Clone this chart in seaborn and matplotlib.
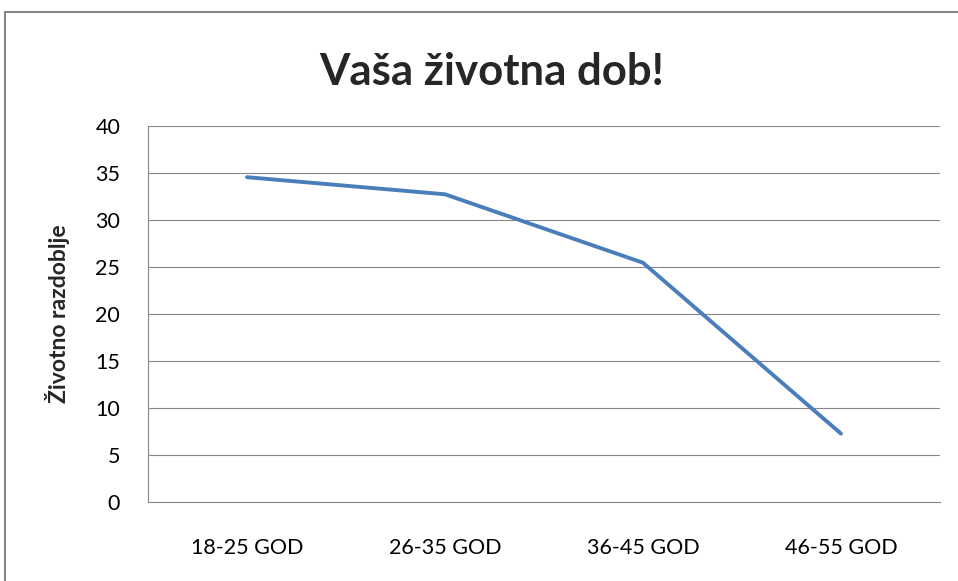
import seaborn as sns
import matplotlib.pyplot as plt
import pandas as pd
from matplotlib.lines import Line2D

# vrijednosti ocitane s grafa
kategorije = ['18-25 GOD', '26-35 GOD', '36-45 GOD', '46-55 GOD']
vrijednosti = [34.55, 32.73, 25.45, 7.27]
y_ticks = [0, 5, 10, 15, 20, 25, 30, 35, 40]

df = pd.DataFrame({'dob': kategorije, 'broj': vrijednosti})

sns.set_style('white')
plt.rcParams['font.family'] = ['Lato', 'DejaVu Sans']

fig = plt.figure(figsize=(9.58, 5.81), dpi=100)
ax = fig.add_axes([0.1545, 0.136, 0.8267, 0.6472])

sns.lineplot(data=df, x='dob', y='broj', ax=ax, color='#4A7EBB', linewidth=2.8, sort=False)

ax.set_ylim(0, 40)
ax.set_xlim(-0.5, 3.5)
ax.set_yticks(y_ticks)
ax.yaxis.grid(True, color='#868686', linewidth=0.8)
ax.set_axisbelow(True)
ax.tick_params(length=0, labelsize=15.5, colors='black')
ax.tick_params(axis='y', pad=20)
ax.tick_params(axis='x', pad=26)

for s in ['top', 'right']:
    ax.spines[s].set_visible(False)
for s in ['left', 'bottom']:
    ax.spines[s].set_color('#868686')
    ax.spines[s].set_linewidth(0.8)

ax.set_xlabel('')
ax.set_ylabel('Životno razdoblje', fontsize=16.5, fontweight='bold', labelpad=18)

fig.text(0.513, 0.876, 'Vaša životna dob!', ha='center', va='center', fontsize=31.5, fontweight='bold')

# okvir grafikona
fig.add_artist(Line2D([5/958, 5/958], [0, 1 - 12/581], color='#868686', linewidth=1.5))
fig.add_artist(Line2D([5/958, 1], [1 - 12/581, 1 - 12/581], color='#868686', linewidth=1.5))

fig.savefig('out.png', dpi=100)
